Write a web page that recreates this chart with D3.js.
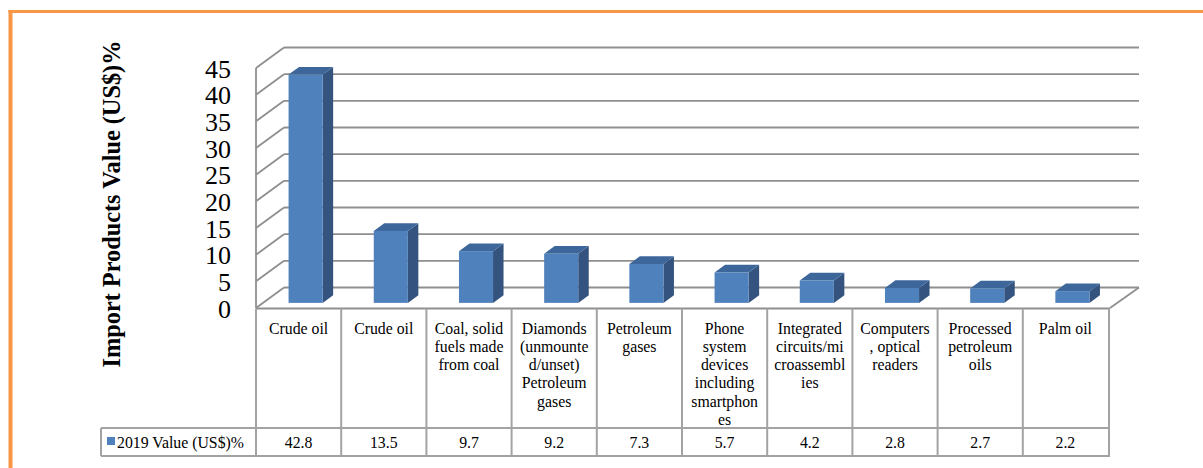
<!DOCTYPE html>
<html><head><meta charset="utf-8">
<script src="https://cdn.jsdelivr.net/npm/d3@7"></script>
<style>body{margin:0;background:#fff}svg{display:block}text{font-family:'Liberation Serif','Times New Roman',serif}</style>
</head><body>
<svg id="c" width="1203" height="468"></svg>
<script>
const categories = [
  "Crude oil",
  "Crude oil",
  "Coal, solid\nfuels made\nfrom coal",
  "Diamonds\n(unmounte\nd/unset)\nPetroleum\ngases",
  "Petroleum\ngases",
  "Phone\nsystem\ndevices\nincluding\nsmartphon\nes",
  "Integrated\ncircuits/mi\ncroassembl\nies",
  "Computers\n, optical\nreaders",
  "Processed\npetroleum\noils",
  "Palm oil"
];
const values2019 = [42.8, 13.5, 9.7, 9.2, 7.3, 5.7, 4.2, 2.8, 2.7, 2.2];
const seriesName = "2019 Value (US$)%";
const yTicks = [0, 5, 10, 15, 20, 25, 30, 35, 40, 45];
const yTitle = "Import Products Value (US$)%";

const svg = d3.select("#c");
const grid = "#8f8f8f", tableC = "#a3a3a3";

// orange frame
svg.append("rect").attr("x", 8.5).attr("y", 10).attr("width", 1203).attr("height", 3).attr("fill", "#F79646");
svg.append("rect").attr("x", 8.5).attr("y", 10).attr("width", 4).attr("height", 468).attr("fill", "#F79646");

const x = d3.scaleBand().domain(d3.range(categories.length)).range([256, 1108]).padding(0);
const y = d3.scaleLinear().domain([0, 45]).range([308, 68]);
const DX = 28, DY = -20.5;
const f1 = 0.25, f2 = 0.625;

const g = svg.append("g");
// back wall gridlines
g.selectAll(".bg").data(yTicks).join("line")
  .attr("x1", 256 + DX).attr("x2", x.range()[1] + DX + 3)
  .attr("y1", d => y(d) + DY).attr("y2", d => y(d) + DY)
  .attr("stroke", grid).attr("stroke-width", 1.8);
// left wall diagonals
g.selectAll(".lw").data(yTicks).join("line")
  .attr("x1", 256).attr("x2", 256 + DX)
  .attr("y1", d => y(d)).attr("y2", d => y(d) + DY)
  .attr("stroke", grid).attr("stroke-width", 1.8);
g.append("line").attr("x1", 256).attr("x2", 256).attr("y1", y(45)).attr("y2", y(0))
  .attr("stroke", grid).attr("stroke-width", 1.8);
// floor right diagonal
g.append("line").attr("x1", x.range()[1] + 2).attr("y1", y(0)).attr("x2", x.range()[1] + DX + 3).attr("y2", y(0) + DY)
  .attr("stroke", grid).attr("stroke-width", 1.8);

// bars
const bw = x.bandwidth() * 0.4;
const bars = g.selectAll(".bar").data(values2019).join("g");
bars.each(function(v, i) {
  const s = d3.select(this);
  const cx = x(i) + x.bandwidth() / 2;
  const xl = cx - bw / 2 + f1 * DX, xr = xl + bw;
  const yt = y(v) + f1 * DY, yb = y(0) + f1 * DY;
  const ddx = (f2 - f1) * DX, ddy = (f2 - f1) * DY;
  s.append("path").attr("d", `M${xr},${yt}L${xr + ddx},${yt + ddy}L${xr + ddx},${yb + ddy}L${xr},${yb}Z`).attr("fill", "#34547F");
  s.append("path").attr("d", `M${xl},${yt}L${xl + ddx},${yt + ddy}L${xr + ddx},${yt + ddy}L${xr},${yt}Z`).attr("fill", "#3D679B");
  s.append("rect").attr("x", xl).attr("y", yt).attr("width", bw).attr("height", yb - yt).attr("fill", "#4F81BD");
});

// y tick labels
svg.selectAll(".yt").data(yTicks).join("text")
  .attr("x", 231).attr("y", d => y(d) + 1)
  .attr("text-anchor", "end").attr("dominant-baseline", "central")
  .style("font-size", "26px").attr("fill", "#000")
  .text(d => d);

// y title
svg.append("text").attr("transform", "translate(120,204) rotate(-90)")
  .attr("text-anchor", "middle").style("font-weight", "bold")
  .style("font-size", "24.3px").attr("fill", "#000").text(yTitle);

// table
const tTop = 308.5, tMid = 428, tBot = 456;
const tg = svg.append("g").attr("stroke", tableC).attr("stroke-width", 2).attr("fill", "none");
tg.append("line").attr("x1", 256).attr("x2", x.range()[1] + 2).attr("y1", tTop).attr("y2", tTop).attr("stroke", grid);
tg.append("line").attr("x1", 101).attr("x2", x.range()[1] + 2).attr("y1", tMid).attr("y2", tMid);
tg.append("line").attr("x1", 101).attr("x2", x.range()[1] + 2).attr("y1", tBot).attr("y2", tBot);
tg.append("line").attr("x1", 101).attr("x2", 101).attr("y1", tMid).attr("y2", tBot);
const bounds = d3.range(categories.length).map(i => x(i)).concat([x.range()[1] + 1]);
tg.selectAll(".vb").data(bounds).join("line")
  .attr("x1", d => d).attr("x2", d => d).attr("y1", tTop).attr("y2", tBot);

// category labels
categories.forEach((c, i) => {
  const t = svg.append("text").attr("text-anchor", "middle")
    .style("font-size", "15.8px").attr("fill", "#000");
  c.split("\n").forEach((ln, k) => {
    t.append("tspan").attr("x", x(i) + x.bandwidth() / 2).attr("y", 333.5 + k * 18.3).text(ln);
  });
});
// values
svg.selectAll(".val").data(values2019).join("text")
  .attr("x", (d, i) => x(i) + x.bandwidth() / 2).attr("y", 448)
  .attr("text-anchor", "middle").style("font-size", "15.8px").attr("fill", "#000")
  .text(d => d.toFixed(1));
// legend
svg.append("rect").attr("x", 107).attr("y", 437).attr("width", 8).attr("height", 8).attr("fill", "#4F81BD");
svg.append("text").attr("x", 117).attr("y", 448).style("font-size", "15.8px")
  .attr("fill", "#000").text(seriesName);
</script>
</body></html>
